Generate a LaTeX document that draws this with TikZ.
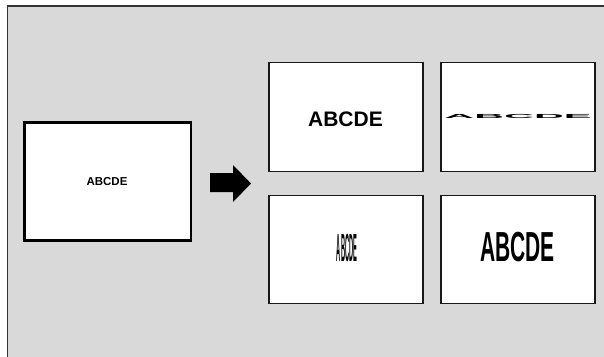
\documentclass[tikz,border=0pt]{standalone}
\usepackage{fontspec}
\setmainfont{Liberation Sans}
\begin{document}
\begin{tikzpicture}[x=1pt,y=-1pt,
  panel/.style={draw=black!90,fill=white,line width=1.8pt},
  mainpanel/.style={draw=black,fill=white,line width=2.8pt},
  word/.style={font=\bfseries\fontsize{21}{21}\selectfont,inner sep=0pt,transform shape}]
\useasboundingbox (0,0) rectangle (604,356);
\fill[white] (0,0) rectangle (604,356);
\draw[fill=black!15,draw=black!80,line width=1.5pt] (7.5,6) rectangle (620,370);
% source
\draw[mainpanel] (24.5,122.5) rectangle (191,240.5);
\node[word,font=\bfseries\fontsize{11.5}{11.5}\selectfont] (src) at (107,181.5) {ABCDE};
% arrow
\fill[black] (210,173) -- (233,173) -- (233,165) -- (251,183.5) -- (233,202) -- (233,192) -- (210,192) -- cycle;
% results
\draw[panel] (269,62.5) rectangle (423,171.5);
\draw[panel] (441,62.5) rectangle (595,171.5);
\draw[panel] (269,195.5) rectangle (423,303.5);
\draw[panel] (441,195.5) rectangle (595,303.5);
\node[word] (r1) at (345.5,119) {ABCDE};
\begin{scope}[shift={(518,116)},xscale=1.97,yscale=0.28]
\node[word] (r2) at (0,0) {ABCDE};
\end{scope}
\begin{scope}[shift={(347,247.5)},xscale=0.27,yscale=1.87]
\node[word] (r3) at (0,0) {ABCDE};
\end{scope}
\begin{scope}[shift={(517.5,247)},xscale=1.0,yscale=2.0]
\node[word] (r4) at (0,0) {ABCDE};
\end{scope}
\end{tikzpicture}
\end{document}
